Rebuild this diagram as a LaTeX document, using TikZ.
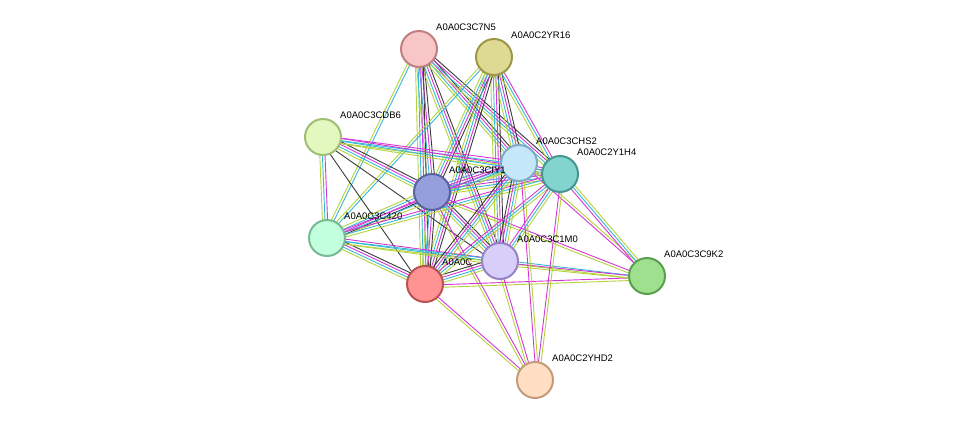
\documentclass[tikz,border=0pt]{standalone}
\usepackage{fontspec}
\setmainfont{Liberation Sans}
\usetikzlibrary{calc}
\definecolor{tm}{HTML}{B5D33A}
\definecolor{db}{HTML}{35B8D8}
\definecolor{ex}{HTML}{D535D5}
\definecolor{co}{HTML}{3A3A3A}
\definecolor{hm}{HTML}{7A7AF0}
\newcommand{\stredge}[3]{%
  \foreach \c [count=\k] in {#3}{%
    \pgfmathsetmacro{\off}{(\k-2.5)*2.6}
    \draw[\c,line width=0.9pt] ($(#1)!\off pt!90:(#2)$) -- ($(#2)!\off pt!-90:(#1)$);}}
\begin{document}
\begin{tikzpicture}[x=1pt,y=-1pt]
  \tikzset{VertexStyle/.style = {shape        = circle,
                                 line width   = 2pt,
                                 inner sep    = 0pt,
                                 minimum size = 36pt}}
  \tikzset{LabelStyle/.style = {anchor = west,
                                inner sep = 0pt,
                                font = \fontsize{9.5}{11}\selectfont}}
\useasboundingbox (0,0) rectangle (976,426);

\coordinate (C7N5) at (419,49);
\coordinate (YR16) at (494,57);
\coordinate (CDB6) at (323,137);
\coordinate (CHS2) at (519,163);
\coordinate (Y1H4) at (560,174);
\coordinate (CIY1) at (432,192);
\coordinate (C420) at (327,238);
\coordinate (C1M0) at (500,261);
\coordinate (RED)  at (425,284);
\coordinate (C9K2) at (647,276);
\coordinate (YHD2) at (535,380);

% edges
\stredge{C7N5}{CIY1}{tm,db,ex,co}
\stredge{C7N5}{C1M0}{tm,db,ex,co}
\stredge{C7N5}{RED}{tm,db,ex,co}
\stredge{C7N5}{CHS2}{tm,db,ex,co}
\stredge{C7N5}{Y1H4}{tm,db,ex,co}
\stredge{C7N5}{C420}{tm,db}
\stredge{YR16}{CIY1}{tm,db,ex,co}
\stredge{YR16}{C1M0}{tm,db,ex,co}
\stredge{YR16}{RED}{tm,db,ex,co}
\stredge{YR16}{CHS2}{tm,db,ex,co}
\stredge{YR16}{Y1H4}{tm,db,ex}
\stredge{YR16}{C420}{tm,db}
\stredge{CDB6}{CIY1}{tm,db,ex,co}
\stredge{CDB6}{CHS2}{tm,db,ex}
\stredge{CDB6}{Y1H4}{tm,db,ex}
\stredge{CDB6}{C420}{tm,db,ex}
\stredge{CDB6}{RED}{co}
\stredge{CDB6}{C1M0}{co}
\stredge{CIY1}{CHS2}{tm,db,ex,hm}
\stredge{CIY1}{Y1H4}{tm,db,ex,hm}
\stredge{CIY1}{C420}{tm,db,ex,co}
\stredge{CIY1}{RED}{tm,db,ex,co}
\stredge{CIY1}{C1M0}{tm,db,ex,co}
\stredge{CIY1}{C9K2}{tm,ex}
\stredge{CIY1}{YHD2}{tm,ex}
\stredge{C420}{RED}{tm,db,ex,co}
\stredge{C420}{C1M0}{tm,db,ex}
\stredge{C420}{C9K2}{tm,db}
\stredge{C420}{CHS2}{tm,db,ex}
\stredge{C420}{Y1H4}{tm,db,ex}
\stredge{RED}{C1M0}{tm,db,ex,co}
\stredge{RED}{C9K2}{tm,ex}
\stredge{RED}{CHS2}{tm,db,ex,co}
\stredge{RED}{Y1H4}{tm,db,ex}
\stredge{RED}{YHD2}{tm,ex}
\stredge{C1M0}{C9K2}{tm,ex}
\stredge{C1M0}{CHS2}{tm,db,ex,co}
\stredge{C1M0}{Y1H4}{tm,db,ex}
\stredge{C1M0}{YHD2}{tm,ex}
\stredge{C9K2}{CHS2}{tm,ex}
\stredge{C9K2}{Y1H4}{tm,db,ex}
\stredge{YHD2}{CHS2}{tm,ex}
\stredge{YHD2}{Y1H4}{tm,ex}
\stredge{CHS2}{Y1H4}{tm,db,ex}

% nodes
\node[VertexStyle,fill={rgb,255:red,248;green,198;blue,198},draw={rgb,255:red,190;green,128;blue,128}] (nC7N5) at (C7N5) {};
\node[VertexStyle,fill={rgb,255:red,222;green,218;blue,148},draw={rgb,255:red,156;green,152;blue,72}] (nYR16) at (YR16) {};
\node[VertexStyle,fill={rgb,255:red,226;green,248;blue,190},draw={rgb,255:red,160;green,190;blue,118}] (nCDB6) at (CDB6) {};
\node[VertexStyle,fill={rgb,255:red,196;green,232;blue,250},draw={rgb,255:red,128;green,170;blue,196}] (nCHS2) at (CHS2) {};
\node[VertexStyle,fill={rgb,255:red,130;green,212;blue,206},draw={rgb,255:red,70;green,150;blue,146}] (nY1H4) at (Y1H4) {};
\node[VertexStyle,fill={rgb,255:red,150;green,158;blue,222},draw={rgb,255:red,90;green,98;blue,160}] (nCIY1) at (CIY1) {};
\node[VertexStyle,fill={rgb,255:red,194;green,255;blue,220},draw={rgb,255:red,120;green,186;blue,148}] (nC420) at (C420) {};
\node[VertexStyle,fill={rgb,255:red,255;green,146;blue,146},draw={rgb,255:red,186;green,82;blue,82}] (nRED) at (RED) {};
\node[LabelStyle] (lRED)  at ($(RED)+(17,-22)$)  {A0A0C};
\node[VertexStyle,fill={rgb,255:red,216;green,206;blue,250},draw={rgb,255:red,150;green,130;blue,196}] (nC1M0) at (C1M0) {};
\node[VertexStyle,fill={rgb,255:red,158;green,224;blue,142},draw={rgb,255:red,88;green,160;blue,80}] (nC9K2) at (C9K2) {};
\node[VertexStyle,fill={rgb,255:red,255;green,222;blue,196},draw={rgb,255:red,196;green,156;blue,124}] (nYHD2) at (YHD2) {};

% labels
\node[LabelStyle] (lC7N5) at ($(C7N5)+(17,-22)$) {A0A0C3C7N5};
\node[LabelStyle] (lYR16) at ($(YR16)+(17,-22)$) {A0A0C2YR16};
\node[LabelStyle] (lCDB6) at ($(CDB6)+(17,-22)$) {A0A0C3CDB6};
\node[LabelStyle] (lCHS2) at ($(CHS2)+(17,-22)$) {A0A0C3CHS2};
\node[LabelStyle] (lY1H4) at ($(Y1H4)+(17,-22)$) {A0A0C2Y1H4};
\node[LabelStyle] (lCIY1) at ($(CIY1)+(17,-22)$) {A0A0C3CIY1};
\node[LabelStyle] (lC420) at ($(C420)+(17,-22)$) {A0A0C3C420};
\node[LabelStyle] (lC1M0) at ($(C1M0)+(17,-22)$) {A0A0C3C1M0};
\node[LabelStyle] (lC9K2) at ($(C9K2)+(17,-22)$) {A0A0C3C9K2};
\node[LabelStyle] (lYHD2) at ($(YHD2)+(17,-22)$) {A0A0C2YHD2};
\end{tikzpicture}
\end{document}
